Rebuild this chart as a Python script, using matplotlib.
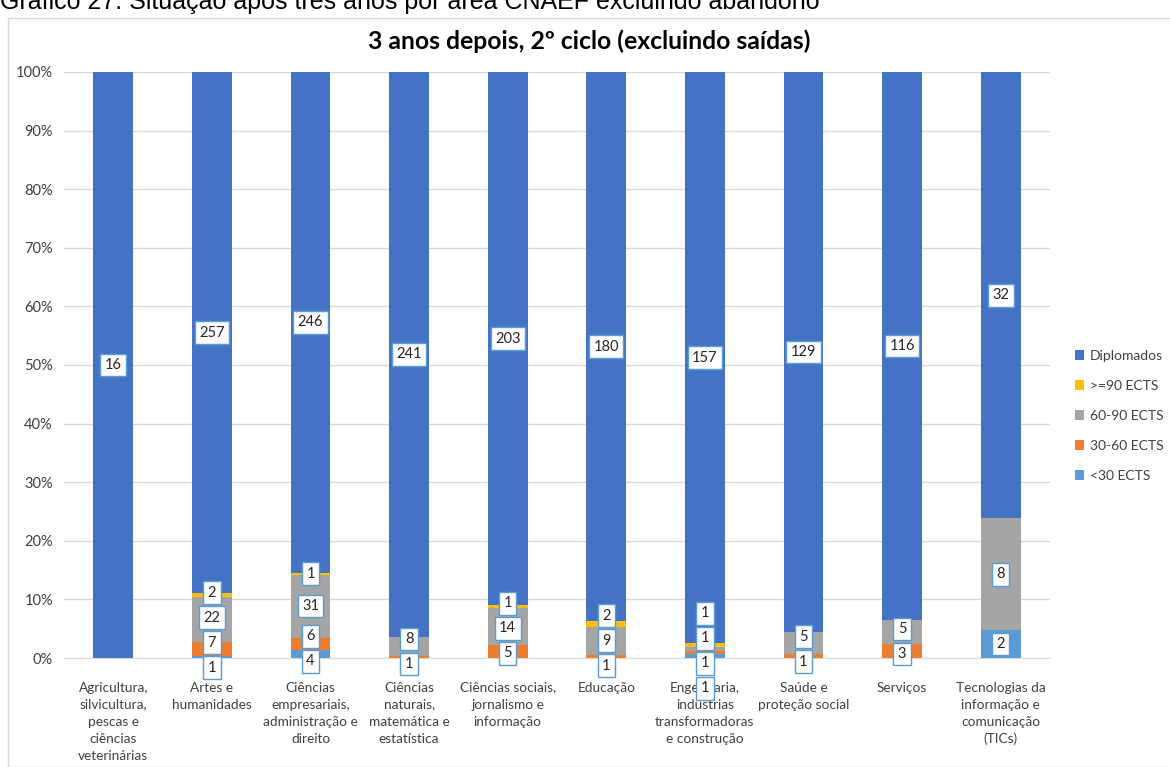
import matplotlib.pyplot as plt
import matplotlib.patches as mpatches
import numpy as np

plt.rcParams['font.family'] = ['Lato', 'DejaVu Sans']

categories = [
    'Agricultura,\nsilvicultura,\npescas e\nciências\nveterinárias',
    'Artes e\nhumanidades',
    'Ciências\nempresariais,\nadministração e\ndireito',
    'Ciências\nnaturais,\nmatemática e\nestatística',
    'Ciências sociais,\njornalismo e\ninformação',
    'Educação',
    'Engenharia,\nindústrias\ntransformadoras\ne construção',
    'Saúde e\nproteção social',
    'Serviços',
    'Tecnologias da\ninformação e\ncomunicação\n(TICs)',
]

menos30 = [0, 1, 4, 0, 0, 0, 1, 0, 0, 2]
ects30_60 = [0, 7, 6, 1, 5, 1, 1, 1, 3, 0]
ects60_90 = [0, 22, 31, 8, 14, 9, 1, 5, 5, 8]
mais90 = [0, 2, 1, 0, 1, 2, 1, 0, 0, 0]
diplomados = [16, 257, 246, 241, 203, 180, 157, 129, 116, 32]

series = [
    ('<30 ECTS', menos30, '#5B9BD5'),
    ('30-60 ECTS', ects30_60, '#ED7D31'),
    ('60-90 ECTS', ects60_90, '#A5A5A5'),
    ('>=90 ECTS', mais90, '#FFC000'),
    ('Diplomados', diplomados, '#4472C4'),
]

totals = np.sum([np.array(s[1]) for s in series], axis=0)


def spread_labels(desired, step):
    # push overlapping labels apart, keeping each group centred on its targets
    groups = [[d] for d in desired]
    pos = [d for d in desired]
    changed = True
    while changed:
        changed = False
        for k in range(len(groups) - 1):
            top_prev = pos[k] + (len(groups[k]) - 1) * step / 2
            bot_next = pos[k + 1] - (len(groups[k + 1]) - 1) * step / 2
            if bot_next - top_prev < step:
                merged = groups[k] + groups[k + 1]
                n = len(merged)
                offs = [(j - (n - 1) / 2) * step for j in range(n)]
                centre = np.mean([m - o for m, o in zip(merged, offs)])
                groups[k] = merged
                pos[k] = centre
                del groups[k + 1]
                del pos[k + 1]
                changed = True
                break
    out = []
    for g, c in zip(groups, pos):
        n = len(g)
        out += [c + (j - (n - 1) / 2) * step for j in range(n)]
    return out


fig = plt.figure(figsize=(11.7, 7.67), dpi=100)

# chart border and caption above it
fig.patches.append(mpatches.Rectangle((8 / 1170, 0), 1.0, 1 - 18 / 767,
                                      transform=fig.transFigure, fill=False,
                                      edgecolor='#D9D9D9', linewidth=1))
fig.text(0.0, 1 - 9 / 767, 'Gráfico 27: Situação após três anos por área CNAEF excluindo abandono',
         family='Liberation Sans', fontsize=18, va='baseline', ha='left', color='#000000')

ax = fig.add_axes([64 / 1170, 1 - 658 / 767, 986 / 1170, (658 - 72) / 767])

x = np.arange(len(categories))
bottom = np.zeros(len(categories))
handles = []
labels = [[] for _ in categories]
for name, vals, color in series:
    pct = np.array(vals) / totals * 100
    bars = ax.bar(x, pct, width=0.405, bottom=bottom, color=color, label=name, zorder=2)
    handles.append(bars)
    for i, v in enumerate(vals):
        if v != 0:
            labels[i].append((bottom[i] + pct[i] / 2, str(v)))
    bottom += pct

# about 25 px between stacked labels, in percent units
step = 25 / 586 * 100
for i, labs in enumerate(labels):
    ys = spread_labels([l[0] for l in labs], step)
    for y, (_, txt) in zip(ys, labs):
        ax.text(x[i], y, txt, ha='center', va='center', fontsize=10.5,
                color='#262626', zorder=5, clip_on=False,
                bbox=dict(boxstyle='square,pad=0.3', facecolor='white',
                          edgecolor='#5B9BD5', linewidth=1))

ax.set_xlim(-0.5, len(categories) - 0.5)
ax.set_ylim(0, 100)
ax.set_yticks(np.arange(0, 101, 10))
ax.set_yticklabels([f'{v}%' for v in range(0, 101, 10)], fontsize=10.5, color='#404040')
ax.set_xticks(x)
ax.set_xticklabels(categories, fontsize=9.8, color='#404040', linespacing=1.5, va='top')
ax.tick_params(axis='both', length=0)
ax.tick_params(axis='y', pad=8)
ax.tick_params(axis='x', pad=17)
ax.grid(axis='y', color='#D9D9D9', linewidth=1, zorder=0)
for s in ['top', 'right', 'left']:
    ax.spines[s].set_visible(False)
ax.spines['bottom'].set_color('#D9D9D9')

fig.text(589 / 1170, 1 - 41 / 767, '3 anos depois, 2º ciclo (excluindo saídas)',
         fontsize=17.8, fontweight='bold', ha='center', va='center', color='#000000')

leg = fig.legend(handles[::-1], [s[0] for s in series][::-1],
                 loc='center left', bbox_to_anchor=(1069 / 1170, 1 - 416 / 767),
                 frameon=False, fontsize=10, handlelength=0.7, handleheight=0.7,
                 handletextpad=0.4, labelspacing=1.3, borderaxespad=0)
for t in leg.get_texts():
    t.set_color('#404040')

fig.savefig('out.png', dpi=100)
